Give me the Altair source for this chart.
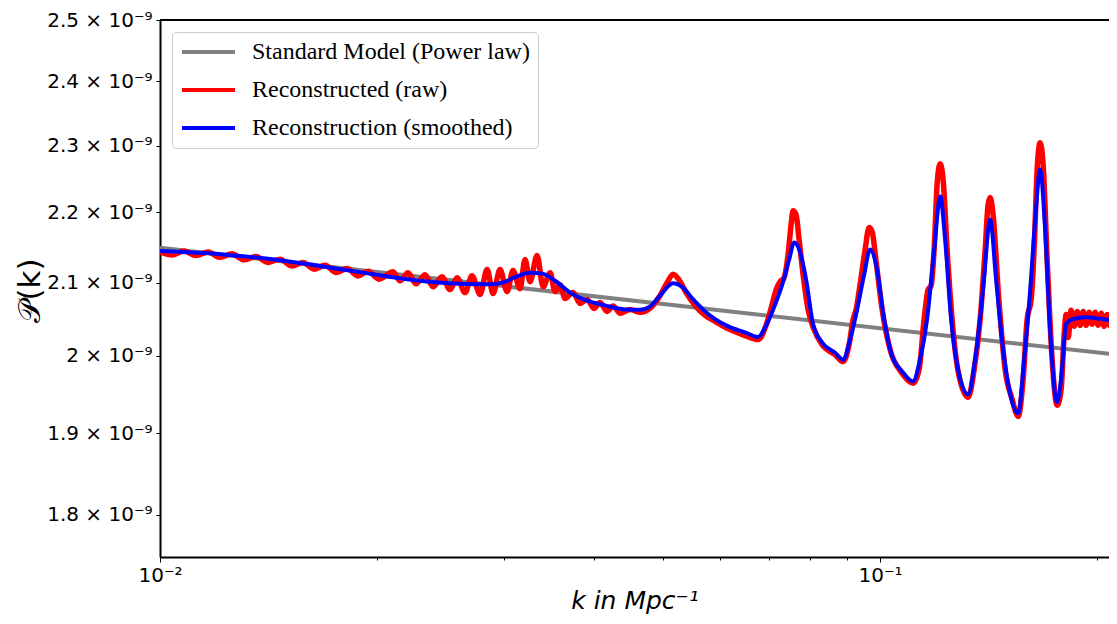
import altair as alt
import pandas as pd

# ---------------- data ----------------
series_names = ["Standard Model (Power law)", "Reconstructed (raw)", "Reconstruction (smoothed)"]
series_colors = ["#808080", "#ff0000", "#0000ff"]

# Power-law model (straight line in log-log)
k_model = [0.0100, 0.2134]
P_model_e9 = [2.1491, 2.0016]

# Smoothed reconstruction
k_smooth = [0.01000, 0.01137, 0.01291, 0.01468, 0.01668, 0.01896, 0.02154, 0.02371, 0.02610, 0.02873,
            0.03014, 0.03112, 0.03265, 0.03394, 0.03538, 0.03711, 0.03893, 0.04150, 0.04424, 0.04642,
            0.04793, 0.04948, 0.05159, 0.05325, 0.05500, 0.05714, 0.06131, 0.06494, 0.06770, 0.06946,
            0.07149, 0.07334, 0.07477, 0.07598, 0.07720, 0.07894, 0.08072, 0.08308, 0.08660, 0.08885,
            0.09086, 0.09292, 0.09502, 0.09685, 0.09873, 0.1013, 0.1039, 0.1073, 0.1111, 0.1136,
            0.1162, 0.1189, 0.1212, 0.1231, 0.1255, 0.1283, 0.1325, 0.1355, 0.1390, 0.1422,
            0.1449, 0.1482, 0.1516, 0.1555, 0.1585, 0.1616, 0.1642, 0.1668, 0.1695, 0.1722,
            0.1761, 0.1789, 0.1812, 0.1848, 0.1926, 0.2021, 0.2134]
P_smooth_e9 = [2.1445, 2.1419, 2.1374, 2.1314, 2.1231, 2.1145, 2.1060, 2.1010, 2.0982, 2.0975,
               2.1010, 2.1074, 2.1138, 2.1124, 2.1024, 2.0860, 2.0758, 2.0683, 2.0628, 2.0622,
               2.0669, 2.0819, 2.0989, 2.0928, 2.0765, 2.0601, 2.0404, 2.0315, 2.0254, 2.0411,
               2.0696, 2.1010, 2.1324, 2.1566, 2.1466, 2.1038, 2.0424, 2.0179, 2.0043, 1.9951,
               2.0220, 2.0628, 2.1110, 2.1466, 2.1252, 2.0492, 2.0000, 1.9796, 1.9666, 1.9951,
               2.0492, 2.1466, 2.2233, 2.1609, 2.0492, 1.9821, 1.9498, 1.9951, 2.0901, 2.1894,
               2.1038, 2.0084, 1.9498, 1.9252, 1.9951, 2.0901, 2.1894, 2.2636, 2.1752, 2.0356,
               1.9394, 1.9821, 2.0424, 2.0492, 2.0520, 2.0499, 2.0465]

# Raw reconstruction (noisy)
k_raw = [0.01000, 0.01039, 0.01080, 0.01122, 0.01166, 0.01212, 0.01259, 0.01308, 0.01359, 0.01413,
         0.01468, 0.01525, 0.01580, 0.01636, 0.01695, 0.01756, 0.01819, 0.01884, 0.01945, 0.02014,
         0.02107, 0.02154, 0.02210, 0.02268, 0.02334, 0.02394, 0.02464, 0.02528, 0.02585, 0.02652,
         0.02712, 0.02783, 0.02846, 0.02901, 0.02966, 0.03034, 0.03092, 0.03162, 0.03213, 0.03265,
         0.03339, 0.03404, 0.03481, 0.03537, 0.03594, 0.03652, 0.03746, 0.03831, 0.03918, 0.04007,
         0.04084, 0.04177, 0.04258, 0.04354, 0.04495, 0.04642, 0.04792, 0.04948, 0.05060, 0.05158,
         0.05258, 0.05377, 0.05534, 0.05714, 0.05900, 0.06131, 0.06330, 0.06536, 0.06770, 0.06945,
         0.07080, 0.07171, 0.07263, 0.07356, 0.07451, 0.07523, 0.07571, 0.07644, 0.07718, 0.07817,
         0.07943, 0.08094, 0.08302, 0.08660, 0.08884, 0.09056, 0.09173, 0.09261, 0.09380, 0.09532,
         0.09654, 0.09747, 0.09873, 0.10064, 0.10325, 0.10729, 0.11113, 0.11328, 0.11511, 0.11659,
         0.11771, 0.11885, 0.11999, 0.12115, 0.12232, 0.12389, 0.12589, 0.12833, 0.13251, 0.13508,
         0.13770, 0.13992, 0.14125, 0.14216, 0.14353, 0.14585, 0.14915, 0.15253, 0.15548, 0.15799,
         0.16002, 0.16208, 0.16364, 0.16522, 0.16681, 0.16842, 0.17059, 0.17334, 0.17614, 0.17841,
         0.18013, 0.18128, 0.18245, 0.18421, 0.18598, 0.18778, 0.18959, 0.19142, 0.19327, 0.19513,
         0.19701, 0.19891, 0.20083, 0.20277, 0.20473, 0.20670, 0.20869, 0.21071, 0.21274]
P_raw_e9 = [2.1431, 2.1388, 2.1443, 2.1379, 2.1431, 2.1354, 2.1406, 2.1318, 2.1366, 2.1282,
            2.1328, 2.1232, 2.1281, 2.1187, 2.1242, 2.1140, 2.1195, 2.1092, 2.1157, 2.1047,
            2.1152, 2.1024, 2.1138, 2.0982, 2.1110, 2.0941, 2.1081, 2.0901, 2.1067, 2.0860,
            2.1095, 2.0833, 2.1181, 2.0846, 2.1181, 2.0873, 2.1167, 2.0914, 2.1324, 2.1010,
            2.1381, 2.0941, 2.1138, 2.0873, 2.0969, 2.0778, 2.0860, 2.0710, 2.0765, 2.0642,
            2.0724, 2.0601, 2.0676, 2.0574, 2.0628, 2.0588, 2.0642, 2.0819, 2.0996, 2.1117,
            2.1038, 2.0860, 2.0683, 2.0547, 2.0465, 2.0370, 2.0315, 2.0261, 2.0220, 2.0411,
            2.0696, 2.0901, 2.1010, 2.1067, 2.1395, 2.1823, 2.2024, 2.1966, 2.1609, 2.1110,
            2.0628, 2.0356, 2.0152, 2.0016, 1.9925, 2.0152, 2.0492, 2.0628, 2.0969, 2.1466,
            2.1780, 2.1723, 2.1295, 2.0628, 2.0084, 1.9770, 1.9640, 1.9821, 2.0492, 2.0901,
            2.0955, 2.1466, 2.2412, 2.2725, 2.2486, 2.1466, 2.0492, 1.9796, 1.9459, 1.9821,
            2.0492, 2.1466, 2.2113, 2.2218, 2.1966, 2.0901, 1.9821, 1.9433, 1.9213, 1.9692,
            2.0492, 2.0765, 2.1466, 2.2636, 2.3041, 2.2710, 2.1324, 1.9951, 1.9356, 1.9563,
            2.0288, 2.0560, 2.0247, 2.0615, 2.0397, 2.0601, 2.0411, 2.0601, 2.0411, 2.0588,
            2.0424, 2.0588, 2.0411, 2.0574, 2.0397, 2.0560, 2.0397, 2.0560, 2.0384]

x_tick_values = [0.01, 0.02, 0.03, 0.04, 0.05, 0.06, 0.07, 0.08, 0.09, 0.1, 0.2]
y_tick_values_e9 = [1.8, 1.9, 2.0, 2.1, 2.2, 2.3, 2.4, 2.5]
x_domain = [0.01, 0.2079]
y_domain_e9 = [1.75, 2.5]


def make_frame(ks, ps, name):
    return pd.DataFrame({"k": ks, "P": [p * 1e-9 for p in ps], "series": name})


df_model = make_frame(k_model, P_model_e9, series_names[0])
df_raw = make_frame(k_raw, P_raw_e9, series_names[1])
df_smooth = make_frame(k_smooth, P_smooth_e9, series_names[2])

PLOT_W = 949
PLOT_H = 537

x_enc = alt.X(
    "k:Q",
    scale=alt.Scale(type="log", domain=x_domain, nice=False),
    axis=alt.Axis(
        values=x_tick_values,
        labelExpr="datum.value < 0.0105 ? '10⁻²' : (abs(datum.value - 0.1) < 0.001 ? '10⁻¹' : '')",
        labelFont="DejaVu Sans",
        labelFontSize=20,
        labelColor="black",
        labelPadding=3,
        labelFlush=False,
        labelOverlap=False,
        tickColor="black",
        tickWidth=1,
        tickSize={"condition": {"test": "datum.value < 0.0105 || abs(datum.value - 0.1) < 0.001", "value": 5}, "value": 3},
        domainColor="black",
        domainWidth=2,
        grid=False,
        title="k in Mpc⁻¹",
        titleFont="DejaVu Sans",
        titleFontStyle="italic",
        titleFontWeight="normal",
        titleFontSize=25,
        titleColor="black",
        titleBaseline="alphabetic",
        titleY=51,
    ),
)

y_enc = alt.Y(
    "P:Q",
    scale=alt.Scale(type="log", domain=[v * 1e-9 for v in y_domain_e9], nice=False),
    axis=alt.Axis(
        values=[v * 1e-9 for v in y_tick_values_e9],
        labelExpr="format(datum.value * 1e9, '.1~f') + ' × 10⁻⁹'",
        labelFont="DejaVu Sans",
        labelFontSize=20,
        labelColor="black",
        labelPadding=4,
        labelOverlap=False,
        tickColor="black",
        tickWidth=1,
        tickSize=4,
        domainColor="black",
        domainWidth=2,
        grid=False,
        title="𝒫(k)",
        titleFont="DejaVu Sans",
        titleFontWeight="normal",
        titleFontSize=31,
        titleColor="black",
        titleBaseline="middle",
        titleX=-130,
        titleY=270,
    ),
)

color_enc = alt.Color(
    "series:N",
    scale=alt.Scale(domain=series_names, range=series_colors),
    legend=alt.Legend(
        title=None,
        orient="none",
        legendX=12,
        legendY=12,
        symbolType="M-1,0H4.3",
        symbolSize=400,
        symbolStrokeWidth=4,
        symbolOpacity=1,
        labelFont="Liberation Serif",
        labelFontSize=24,
        labelColor="black",
        labelOffset=48,
        labelLimit=600,
        rowPadding=14,
        padding=8,
        fillColor="white",
        strokeColor="#cccccc",
        cornerRadius=4,
    ),
)

model_line = alt.Chart(df_model).mark_line(strokeWidth=4, clip=True).encode(x=x_enc, y=y_enc, color=color_enc)
raw_line = alt.Chart(df_raw).mark_line(strokeWidth=5.5, clip=True, interpolate="monotone", strokeJoin="round").encode(
    x=x_enc, y=y_enc, color=color_enc)
smooth_line = alt.Chart(df_smooth).mark_line(strokeWidth=4, clip=True, interpolate="monotone", strokeJoin="round").encode(
    x=x_enc, y=y_enc, color=color_enc)

top_spine = alt.Chart(pd.DataFrame({"s": [0]})).mark_rule(color="black", strokeWidth=2).encode(
    x=alt.value(0), x2=alt.value(PLOT_W), y=alt.value(0))

chart = alt.layer(model_line, raw_line, smooth_line, top_spine).properties(
    width=PLOT_W,
    height=PLOT_H,
    padding={"left": 152, "top": 12, "right": 0, "bottom": 59},
    autosize=alt.AutoSizeParams(type="none"),
    background="white",
).configure_view(stroke=None)

chart.save("out.html", embed_options={"renderer": "svg", "actions": False})
